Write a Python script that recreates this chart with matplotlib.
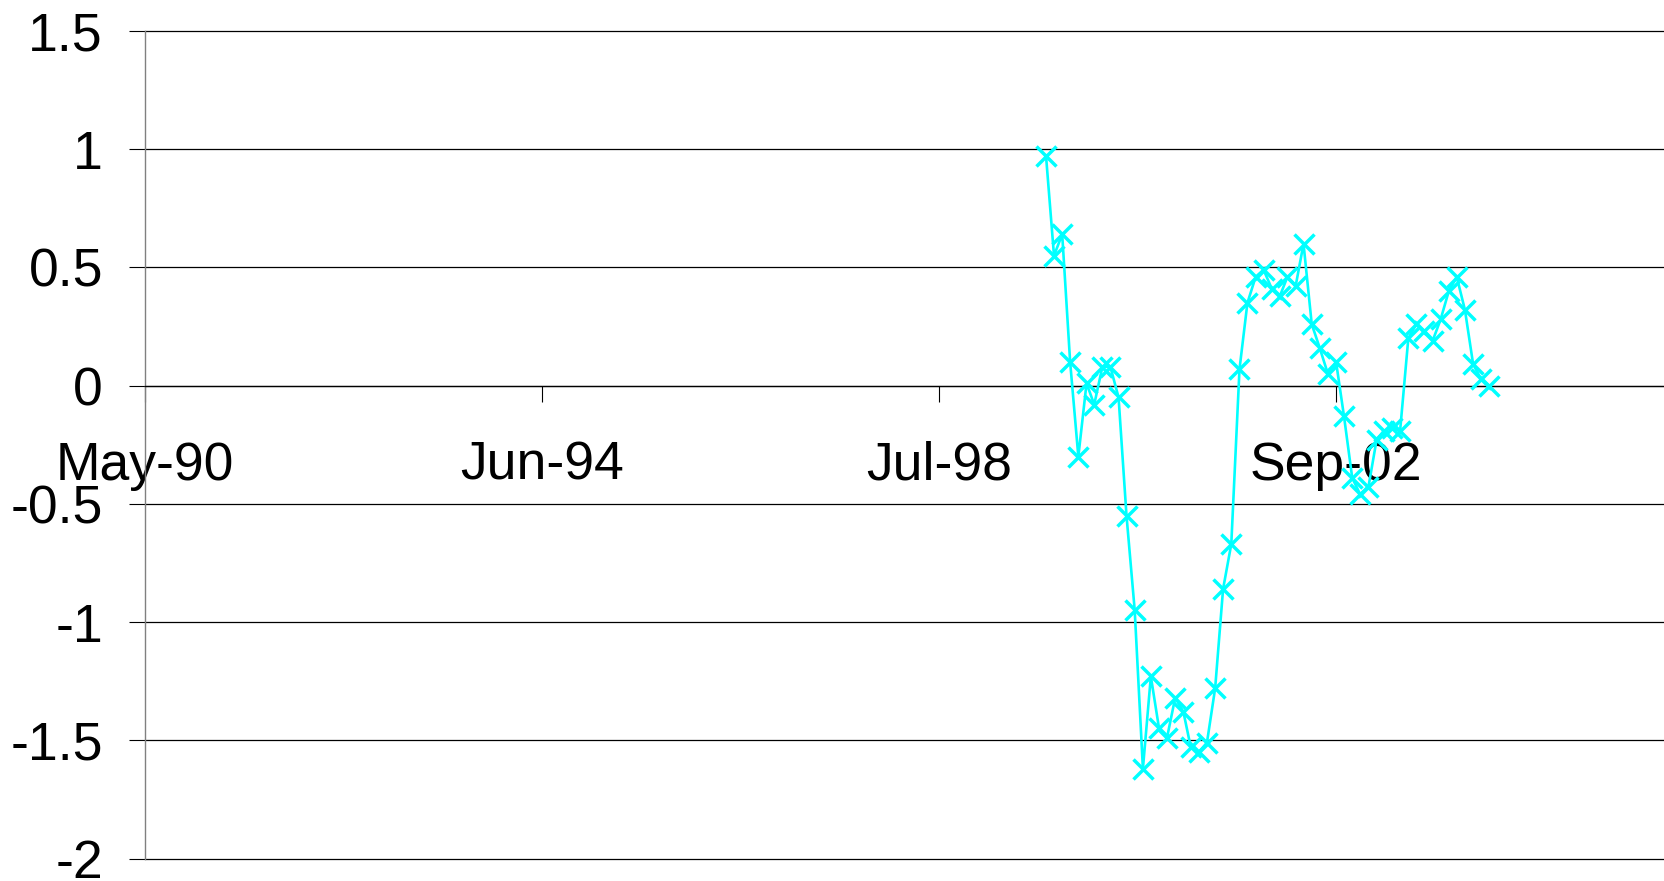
import datetime as dt
import matplotlib
matplotlib.use("Agg")
import matplotlib.pyplot as plt
import matplotlib.dates as mdates
import pandas as pd

# Monthly series, Sep 1999 .. Apr 2004
months = pd.date_range("1999-09-01", periods=56, freq="MS")
values = [0.97, 0.55, 0.64, 0.10, -0.30, 0.01, -0.08, 0.08, 0.08, -0.05,
          -0.55, -0.95, -1.62, -1.23, -1.45, -1.49, -1.32, -1.38, -1.53, -1.55,
          -1.51, -1.28, -0.86, -0.67, 0.07, 0.35, 0.46, 0.49, 0.41, 0.38,
          0.46, 0.42, 0.60, 0.26, 0.16, 0.05, 0.10, -0.13, -0.39, -0.46,
          -0.43, -0.23, -0.19, -0.18, -0.19, 0.20, 0.26, 0.23, 0.19, 0.28,
          0.40, 0.46, 0.32, 0.09, 0.03, 0.00]

# Date axis: starts 7 May 1990, major unit 1500 days
axis_start = dt.date(1990, 5, 7)
tick_step_days = 1500
tick_labels = ["May-90", "Jun-94", "Jul-98", "Sep-02"]
y_ticks = [-2, -1.5, -1, -0.5, 0, 0.5, 1, 1.5]
y_labels = ["-2", "-1.5", "-1", "-0.5", "0", "0.5", "1", "1.5"]

plt.rcParams["font.family"] = ["Liberation Sans", "DejaVu Sans"]

W, H = 1665, 881
fig = plt.figure(figsize=(W / 100, H / 100), dpi=100)
left_px, top_px, bottom_px = 145.3, 31.0, 858.5
ax = fig.add_axes([left_px / W, 1 - bottom_px / H, 1 - left_px / W, (bottom_px - top_px) / H])

ax.plot(months, values, color="#00FFFF", lw=1.9, marker="x", markersize=14,
        markeredgewidth=2.5, zorder=3, clip_on=False)

tick_dates = [axis_start + dt.timedelta(days=tick_step_days * k) for k in range(len(tick_labels))]
ax.set_xticks([mdates.date2num(d) for d in tick_dates])
ax.set_xticklabels(tick_labels)
x0 = mdates.date2num(axis_start)
ax.set_xlim(x0, x0 + 5743)

ax.set_ylim(-2, 1.5)
ax.set_yticks(y_ticks)
ax.set_yticklabels(y_labels)

# horizontal gridlines, including the ones on the plot edges
ax.yaxis.grid(True, color="black", lw=0.9, zorder=0)
ax.xaxis.grid(False)
ax.set_axisbelow(True)
for gl in ax.get_ygridlines():
    gl.set_clip_on(False)

for s in ["top", "right"]:
    ax.spines[s].set_visible(False)
ax.spines["left"].set_color("#808080")
ax.spines["left"].set_linewidth(1.0)
ax.spines["bottom"].set_position(("data", 0))
ax.spines["bottom"].set_color("black")
ax.spines["bottom"].set_linewidth(0.9)

ax.tick_params(axis="y", direction="out", length=11.5, width=0.8, color="black",
               pad=19.0, labelsize=38.5)
ax.tick_params(axis="x", direction="out", length=11.5, width=0.8, color="black",
               pad=28, labelsize=38.5)

fig.savefig("out.png", dpi=100)
